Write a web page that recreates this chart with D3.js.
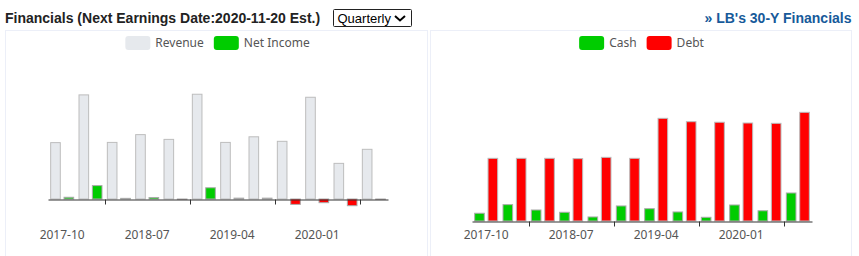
<!DOCTYPE html>
<html>
<head>
<meta charset="utf-8">
<script src="https://cdn.jsdelivr.net/npm/d3@7"></script>
<style>
  body { margin: 0; background: #fff; }
  svg { display: block; }
</style>
</head>
<body>
<div id="thediv"></div>
<script>
// quarterly data, values in billions USD
var quarters = ['2017-10','2018-01','2018-04','2018-07','2018-10','2019-01','2019-04','2019-07','2019-10','2020-01','2020-04','2020-07'];
var labelQuarters = ['2017-10','2018-07','2019-04','2020-01'];
var tickIdx = [2, 5, 8, 11];
var revenue = [2.61, 4.82, 2.62, 2.98, 2.76, 4.85, 2.62, 2.88, 2.67, 4.71, 1.65, 2.30];
var netIncome = [0.08, 0.62, 0.03, 0.07, -0.02, 0.52, 0.04, 0.04, -0.25, -0.17, -0.31, -0.02];
var cash = [0.71, 1.50, 1.01, 0.80, 0.37, 1.38, 1.13, 0.83, 0.34, 1.47, 0.94, 2.57];
var debt = [5.75, 5.75, 5.75, 5.72, 5.84, 5.75, 9.42, 9.11, 9.06, 8.99, 8.96, 9.97];

var svgWidth = 859, svgHeight = 256;
var svg = d3.select('#thediv').append('svg').attr('width', svgWidth).attr('height', svgHeight);
var font = '"Noto Sans", sans-serif';

// header
svg.append('text').attr('x', 5).attr('y', 22.5)
  .style('font', 'bold 14px "Liberation Sans", Arial, sans-serif').attr('fill', '#222')
  .text('Financials (Next Earnings Date:2020-11-20 Est.)');

var sel = svg.append('g');
sel.append('rect').attr('x', 333.5).attr('y', 9.5).attr('width', 78).attr('height', 17)
  .attr('fill', '#fff').attr('stroke', '#222').attr('rx', 1);
sel.append('text').attr('x', 337.5).attr('y', 22.5)
  .style('font', '13px "Liberation Sans", Arial, sans-serif').attr('fill', '#000').text('Quarterly');
sel.append('path').attr('d', 'M395,16 L400,20.5 L405,16').attr('fill', 'none')
  .attr('stroke', '#000').attr('stroke-width', 2);

svg.append('text').attr('x', 851.5).attr('y', 22.5).attr('text-anchor', 'end')
  .style('font', 'bold 14px "Liberation Sans", Arial, sans-serif').attr('fill', '#175a9a')
  .text('\u00bb LB\'s 30-Y Financials');

// panels
svg.append('rect').attr('x', 5.5).attr('y', 30.5).attr('width', 422).attr('height', 240)
  .attr('fill', 'none').attr('stroke', '#eceff8');
svg.append('rect').attr('x', 430.5).attr('y', 30.5).attr('width', 421).attr('height', 240)
  .attr('fill', 'none').attr('stroke', '#eceff8');

var styles = {
  Revenue: { fill: '#e6e9ed', stroke: '#bdbdbd' },
  'Net Income': { fill: '#00cc00', stroke: '#aaa' },
  Cash: { fill: '#00cc00', stroke: '#aaa' },
  Debt: { fill: '#ff0000', stroke: '#bbb' }
};

function legend(items, cx) {
  var g = svg.append('g');
  var x = 0;
  items.forEach(function (name, i) {
    var it = g.append('g').attr('transform', 'translate(' + x + ',0)');
    it.append('rect').attr('x', 0).attr('y', 36).attr('width', 25).attr('height', 14).attr('rx', 3)
      .attr('fill', styles[name].fill);
    var t = it.append('text').attr('x', 30).attr('y', 46.5).style('font', '12px ' + font)
      .attr('fill', '#555').text(name);
    x += 30 + t.node().getComputedTextLength() + 10;
  });
  x -= 10;
  g.attr('transform', 'translate(' + (cx - x / 2) + ',0)');
}

function chart(opts) {
  var x0 = d3.scaleBand().domain(quarters).range(opts.xr);
  var x1 = d3.scaleBand().domain(opts.names).range([0, x0.bandwidth()]).paddingInner(0.28).paddingOuter(0.2);
  var y = d3.scaleLinear().domain(opts.yd).range(opts.yr);
  var g = svg.append('g');

  opts.names.forEach(function (name, k) {
    var vals = opts.series[k];
    g.selectAll(null).data(vals).enter().append('rect')
      .attr('x', function (d, i) { return x0(quarters[i]) + x1(name); })
      .attr('width', x1.bandwidth())
      .attr('y', function (d) { return Math.min(y(d), y(0)); })
      .attr('height', function (d) { return Math.abs(y(d) - y(0)); })
      .attr('fill', function (d) { return (name == 'Net Income' && d < 0) ? '#ff0000' : styles[name].fill; })
      .attr('stroke', styles[name].stroke)
      .attr('stroke-width', 1);
  });

  var zero = Math.round(y(0)) + 0.5;
  var axis = d3.axisBottom(x0).tickValues(labelQuarters).tickSize(0).tickSizeOuter(0)
    .tickPadding(opts.labelY - zero - 8.5);
  var ag = g.append('g').attr('transform', 'translate(0,' + zero + ')').call(axis);
  ag.select('.domain').attr('stroke', '#333');
  ag.selectAll('text').style('font', '12px ' + font).attr('fill', '#555');

  g.selectAll(null).data(tickIdx).enter().append('line')
    .attr('x1', function (i) { return Math.round(x0(quarters[i])) + 0.5; })
    .attr('x2', function (i) { return Math.round(x0(quarters[i])) + 0.5; })
    .attr('y1', zero).attr('y2', zero + 5)
    .attr('stroke', '#333');
}

legend(['Revenue', 'Net Income'], 217.5);
legend(['Cash', 'Debt'], 641.5);

chart({
  names: ['Revenue', 'Net Income'],
  series: [revenue, netIncome],
  xr: [48, 388],
  yd: [0, 5], yr: [199, 91],
  labelY: 238.5
});

chart({
  names: ['Cash', 'Debt'],
  series: [cash, debt],
  xr: [472, 812],
  yd: [0, 10], yr: [221, 112],
  labelY: 238.5
});
</script>
</body>
</html>
